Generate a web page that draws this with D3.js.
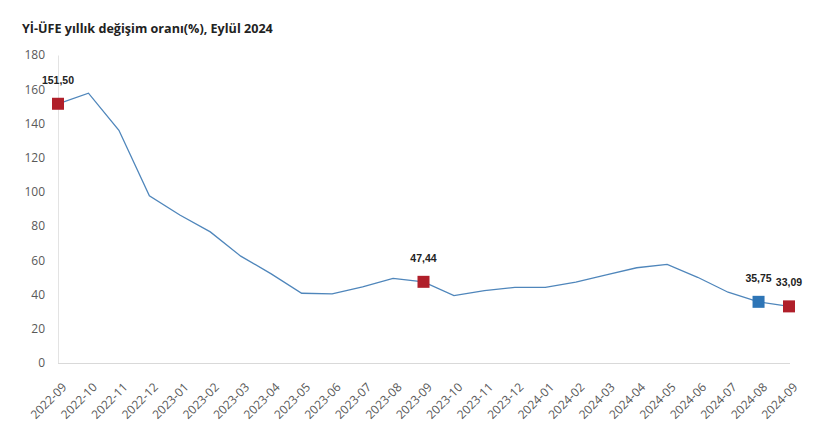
<!DOCTYPE html>
<html><head><meta charset="utf-8">
<script src="https://cdn.jsdelivr.net/npm/d3@7"></script>
<style>body{margin:0;background:#fff;} svg{display:block;}</style>
</head><body><svg id="c" width="817" height="440"></svg>
<script>
const title = "Yİ-ÜFE yıllık değişim oranı(%), Eylül 2024";
const months = ["2022-09","2022-10","2022-11","2022-12","2023-01","2023-02","2023-03","2023-04","2023-05","2023-06","2023-07","2023-08","2023-09","2023-10","2023-11","2023-12","2024-01","2024-02","2024-03","2024-04","2024-05","2024-06","2024-07","2024-08","2024-09"];
const values = [151.50,157.69,136.02,97.72,86.46,76.61,62.45,52.11,40.76,40.42,44.50,49.41,47.44,39.39,42.25,44.22,44.20,47.29,51.47,55.66,57.68,50.09,41.37,35.75,33.09];
const yTicks = [0,20,40,60,80,100,120,140,160,180];
const highlights = [
  {month:"2022-09", label:"151,50", color:"#b01f2a"},
  {month:"2023-09", label:"47,44", color:"#b01f2a"},
  {month:"2024-08", label:"35,75", color:"#2e75b6"},
  {month:"2024-09", label:"33,09", color:"#b01f2a"}
];

const svg = d3.select("#c");
const x = d3.scalePoint().domain(months).range([58, 789]);
const y = d3.scaleLinear().domain([0,180]).range([363, 55]);
const data = months.map((m,i)=>({m, v:values[i]}));

svg.append("text").attr("x",22).attr("y",33)
  .attr("font-family","'Open Sans', sans-serif").attr("font-weight","bold")
  .attr("font-size",12.6).attr("fill","#222").text(title);

// y axis
const ya = svg.append("g").attr("transform","translate(58,0)")
  .call(d3.axisLeft(y).tickValues(yTicks).tickSize(0).tickPadding(13));
ya.select(".domain").attr("stroke","#e3e3e3");
ya.selectAll("text").attr("font-family","'Open Sans', sans-serif").attr("font-size",12).attr("fill","#595959");

// x axis
const xa = svg.append("g").attr("transform","translate(0,363)")
  .call(d3.axisBottom(x).tickSize(0).tickPadding(0));
xa.select(".domain").attr("stroke","#d9d9d9").attr("d","M58,0.5H790");
xa.selectAll("text")
  .attr("font-family","'Open Sans', sans-serif").attr("font-size",12).attr("fill","#595959")
  .attr("text-anchor","end")
  .attr("transform","translate(6,22) rotate(-45)")
  .attr("dy","0.35em").attr("y",0);

// line
svg.append("path").datum(data)
  .attr("fill","none").attr("stroke","#4f86bb").attr("stroke-width",1.3)
  .attr("d", d3.line().x(d=>x(d.m)).y(d=>y(d.v)));

// markers
const hv = highlights.map(h=>({...h, v: values[months.indexOf(h.month)]}));
svg.selectAll("rect.mk").data(hv).join("rect").attr("class","mk")
  .attr("x",d=>x(d.month)-6).attr("y",d=>y(d.v)-6)
  .attr("width",12).attr("height",12).attr("fill",d=>d.color);
svg.selectAll("text.lb").data(hv).join("text").attr("class","lb")
  .attr("x",d=>x(d.month)).attr("y",d=>y(d.v)-20)
  .attr("text-anchor","middle")
  .attr("font-family","'Liberation Sans', Arial, sans-serif").attr("font-weight","bold")
  .attr("font-size",10.5).attr("fill","#222").text(d=>d.label);
</script></body></html>
